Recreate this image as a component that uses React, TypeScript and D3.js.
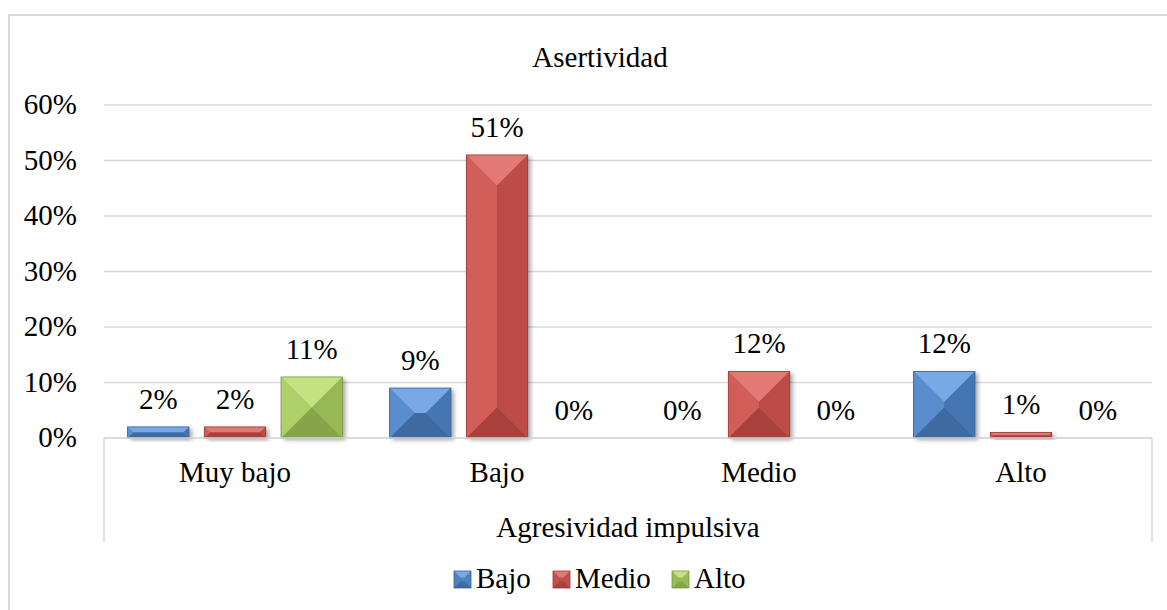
import React from "react";
import * as d3 from "d3";

const categories = ["Muy bajo", "Bajo", "Medio", "Alto"];
const seriesNames = ["Bajo", "Medio", "Alto"];
const bajoValues = [0.02, 0.09, 0, 0.12];
const medioValues = [0.02, 0.51, 0.12, 0.01];
const altoValues = [0.11, 0, 0, 0];
const yTicks = [0, 0.1, 0.2, 0.3, 0.4, 0.5, 0.6];
const title = "Asertividad";
const axisTitle = "Agresividad impulsiva";

const seriesValues = [bajoValues, medioValues, altoValues];

const palettes = [
  { base: "#4f81bd", top: "#79a9e4", left: "#5a8dcd", right: "#4676b1", bottom: "#3e69a1", stroke: "#3b6293" },
  { base: "#c0504d", top: "#e27974", left: "#d25e5a", right: "#bd4b47", bottom: "#a8403c", stroke: "#993b38" },
  { base: "#9bbb59", top: "#c5e282", left: "#afcf69", right: "#98b856", bottom: "#87a548", stroke: "#7b9742" },
];

const FONT = "'Liberation Serif', 'Times New Roman', Times, 'DejaVu Serif', serif";
const FS = 29;

export default function App() {
  const W = 1167;
  const H = 610;
  const plotLeft = 104;
  const plotRight = 1152;
  const y = d3.scaleLinear().domain([0, 0.6]).range([438, 105]);
  const x0 = d3
    .scaleBand<string>()
    .domain(categories)
    .range([plotLeft, plotRight])
    .paddingInner(0.18)
    .paddingOuter(0.09);
  const x1 = d3
    .scaleBand<string>()
    .domain(seriesNames)
    .range([0, x0.bandwidth()])
    .paddingInner(0.2)
    .paddingOuter(0);
  const fmt = d3.format(".0%");
  const step = x0.step();

  const bars: any[] = [];
  categories.forEach((c, ci) => {
    seriesNames.forEach((s, si) => {
      const v = seriesValues[si][ci];
      const bx0 = (x0(c) as number) + (x1(s) as number);
      const bx1 = bx0 + x1.bandwidth();
      const by0 = y(v);
      const by1 = y(0);
      bars.push({ c, s, si, v, bx0, bx1, by0, by1 });
    });
  });

  const legendItems = [
    { name: "Bajo", x: 454 },
    { name: "Medio", x: 553 },
    { name: "Alto", x: 672 },
  ];

  return (
    <svg
      width={W}
      height={H}
      style={{ position: "absolute", left: 0, top: 0, background: "#fff", fontFamily: FONT }}
      fontFamily={FONT}
      fontSize={FS}
    >
      <defs>
        <filter id="shadow" x="-20%" y="-20%" width="150%" height="150%">
          <feDropShadow dx="3" dy="2" stdDeviation="2.2" floodColor="#000" floodOpacity="0.35" />
        </filter>
      </defs>
      {/* chart border */}
      <path d={`M9,${H + 5} L9,15 L${W + 5},15`} fill="none" stroke="#d9d9d9" strokeWidth={2} />
      {/* title */}
      <text x={600} y={67} textAnchor="middle" fill="#000">
        {title}
      </text>
      {/* gridlines */}
      {yTicks.map((t) => (
        <line key={t} x1={plotLeft} x2={plotRight} y1={y(t)} y2={y(t)} stroke="#d9d9d9" strokeWidth={1.5} />
      ))}
      {/* tick labels */}
      {yTicks.map((t) => (
        <text key={"l" + t} x={77} y={y(t) + 9} textAnchor="end" fill="#000">
          {fmt(t)}
        </text>
      ))}
      {/* category axis box */}
      <line x1={plotLeft} x2={plotLeft} y1={y(0)} y2={542} stroke="#d9d9d9" strokeWidth={1.5} />
      <line x1={plotRight} x2={plotRight} y1={y(0)} y2={542} stroke="#d9d9d9" strokeWidth={1.5} />
      {/* bars */}
      {bars.map((b, i) => {
        const p = palettes[b.si];
        const w = b.bx1 - b.bx0;
        const h = b.by1 - b.by0;
        if (h <= 0.01) return null;
        const d = Math.min(w / 2, h / 2);
        const ix0 = b.bx0 + d;
        const ix1 = b.bx1 - d;
        const iy0 = b.by0 + d;
        const iy1 = b.by1 - d;
        const pts = (arr: number[][]) => arr.map((q) => q.join(",")).join(" ");
        return (
          <g key={i}>
            <rect x={b.bx0} y={b.by0} width={w} height={h} fill={p.base} filter="url(#shadow)" />
            <polygon points={pts([[b.bx0, b.by0], [b.bx1, b.by0], [ix1, iy0], [ix0, iy0]])} fill={p.top} />
            <polygon points={pts([[b.bx0, b.by1], [b.bx1, b.by1], [ix1, iy1], [ix0, iy1]])} fill={p.bottom} />
            <polygon points={pts([[b.bx0, b.by0], [ix0, iy0], [ix0, iy1], [b.bx0, b.by1]])} fill={p.left} />
            <polygon points={pts([[b.bx1, b.by0], [ix1, iy0], [ix1, iy1], [b.bx1, b.by1]])} fill={p.right} />
            {ix1 > ix0 && iy1 > iy0 ? (
              <rect x={ix0} y={iy0} width={ix1 - ix0} height={iy1 - iy0} fill={p.base} />
            ) : null}
            <rect x={b.bx0} y={b.by0} width={w} height={h} fill="none" stroke={p.stroke} strokeWidth={0.8} />
          </g>
        );
      })}
      {/* axis line */}
      <line x1={plotLeft} x2={plotRight} y1={y(0)} y2={y(0)} stroke="#d9d9d9" strokeWidth={1.5} />
      {/* data labels */}
      {bars.map((b, i) => (
        <text key={"d" + i} x={(b.bx0 + b.bx1) / 2} y={b.by0 - 18} textAnchor="middle" fill="#000">
          {fmt(b.v)}
        </text>
      ))}
      {/* category labels */}
      {categories.map((c) => (
        <text key={"c" + c} x={(x0(c) as number) - step * 0.09 + step / 2} y={482} textAnchor="middle" fill="#000">
          {c}
        </text>
      ))}
      <text x={(plotLeft + plotRight) / 2} y={537} textAnchor="middle" fill="#000">
        {axisTitle}
      </text>
      {/* legend */}
      {legendItems.map((it, i) => {
        const p = palettes[i];
        const s = 17;
        const lx = it.x;
        const ly = 571;
        const d = s / 2 - 2;
        return (
          <g key={"lg" + i}>
            <rect x={lx} y={ly} width={s} height={s} fill={p.base} />
            <polygon points={`${lx},${ly} ${lx + s},${ly} ${lx + s - d},${ly + d} ${lx + d},${ly + d}`} fill={p.top} />
            <polygon points={`${lx},${ly + s} ${lx + s},${ly + s} ${lx + s - d},${ly + s - d} ${lx + d},${ly + s - d}`} fill={p.bottom} />
            <rect x={lx} y={ly} width={s} height={s} fill="none" stroke={p.stroke} strokeWidth={0.8} />
            <text x={lx + s + 5} y={588} fill="#000">
              {it.name}
            </text>
          </g>
        );
      })}
    </svg>
  );
}
